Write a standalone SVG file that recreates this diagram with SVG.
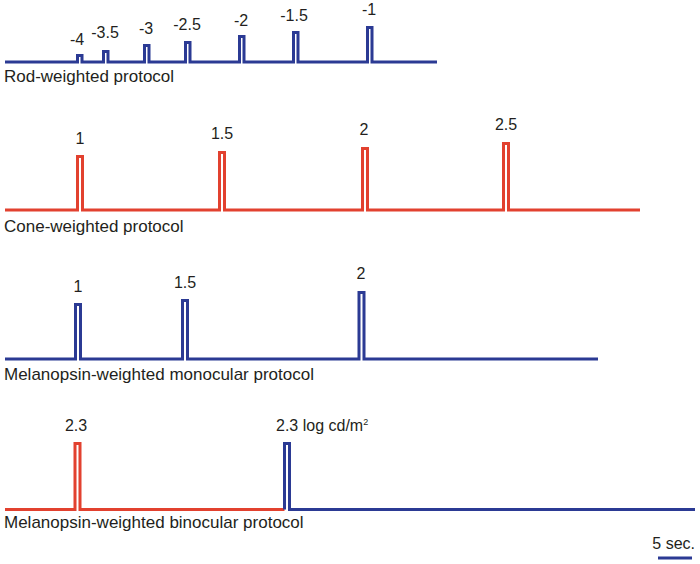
<svg xmlns="http://www.w3.org/2000/svg" width="700" height="564" viewBox="0 0 700 564">
<style>
.b{fill:none;stroke:#2b3a94;stroke-width:3;stroke-linejoin:miter}
.r{fill:none;stroke:#e2412f;stroke-width:3;stroke-linejoin:miter}
text{font-family:"Liberation Sans",Arial,sans-serif;fill:#231f20}
.n{font-size:16px;text-anchor:middle}
.p{font-size:17px}
</style>
<rect width="700" height="564" fill="#fff"/>
<g id="rod">
<polyline class="b" points="5,62 77.5,62 77.5,55.5 82,55.5 82,62 103.5,62 103.5,51.5 108,51.5 108,62 144.5,62 144.5,45.5 149,45.5 149,62 185.5,62 185.5,42.5 190,42.5 190,62 239.5,62 239.5,36.5 244,36.5 244,62 293.5,62 293.5,32.5 298,32.5 298,62 367.5,62 367.5,27.5 372,27.5 372,62 437,62"/>
<text class="n" x="77" y="45">-4</text>
<text class="n" x="105" y="38">-3.5</text>
<text class="n" x="146" y="34">-3</text>
<text class="n" x="187" y="30">-2.5</text>
<text class="n" x="241" y="26">-2</text>
<text class="n" x="294" y="21">-1.5</text>
<text class="n" x="369" y="15">-1</text>
<text class="p" x="4" y="82">Rod-weighted protocol</text>
</g>
<g id="cone">
<polyline class="r" points="5,210 77.5,210 77.5,156.5 82.5,156.5 82.5,210 219.5,210 219.5,152.5 224.5,152.5 224.5,210 362.5,210 362.5,148.5 367.5,148.5 367.5,210 503.5,210 503.5,143.5 508.5,143.5 508.5,210 640,210"/>
<text class="n" x="80" y="144">1</text>
<text class="n" x="222" y="139">1.5</text>
<text class="n" x="364" y="135">2</text>
<text class="n" x="506" y="130">2.5</text>
<text class="p" x="4" y="232">Cone-weighted protocol</text>
</g>
<g id="mono">
<polyline class="b" points="5,359 75.5,359 75.5,304.5 80.5,304.5 80.5,359 182.5,359 182.5,300.5 187.5,300.5 187.5,359 359,359 359,292.5 364,292.5 364,359 598,359"/>
<text class="n" x="78" y="292">1</text>
<text class="n" x="185" y="288">1.5</text>
<text class="n" x="361" y="279">2</text>
<text class="p" x="4" y="380">Melanopsin-weighted monocular protocol</text>
</g>
<g id="bino">
<polyline class="r" points="5,509.5 75,509.5 75,443.5 80,443.5 80,509.5 284.5,509.5"/>
<polyline class="b" points="284.5,509.5 284.5,443.5 289.5,443.5 289.5,509.5 695,509.5"/>
<text class="n" x="76" y="431">2.3</text>
<text x="276" y="431" font-size="16">2.3 log cd/m<tspan font-size="9" dy="-6">2</tspan></text>
<text class="p" x="4" y="528">Melanopsin-weighted binocular protocol</text>
</g>
<g id="scale">
<line class="b" x1="658" y1="558" x2="692" y2="558"/>
<text x="695" y="549" font-size="16" text-anchor="end">5 sec.</text>
</g>
</svg>
